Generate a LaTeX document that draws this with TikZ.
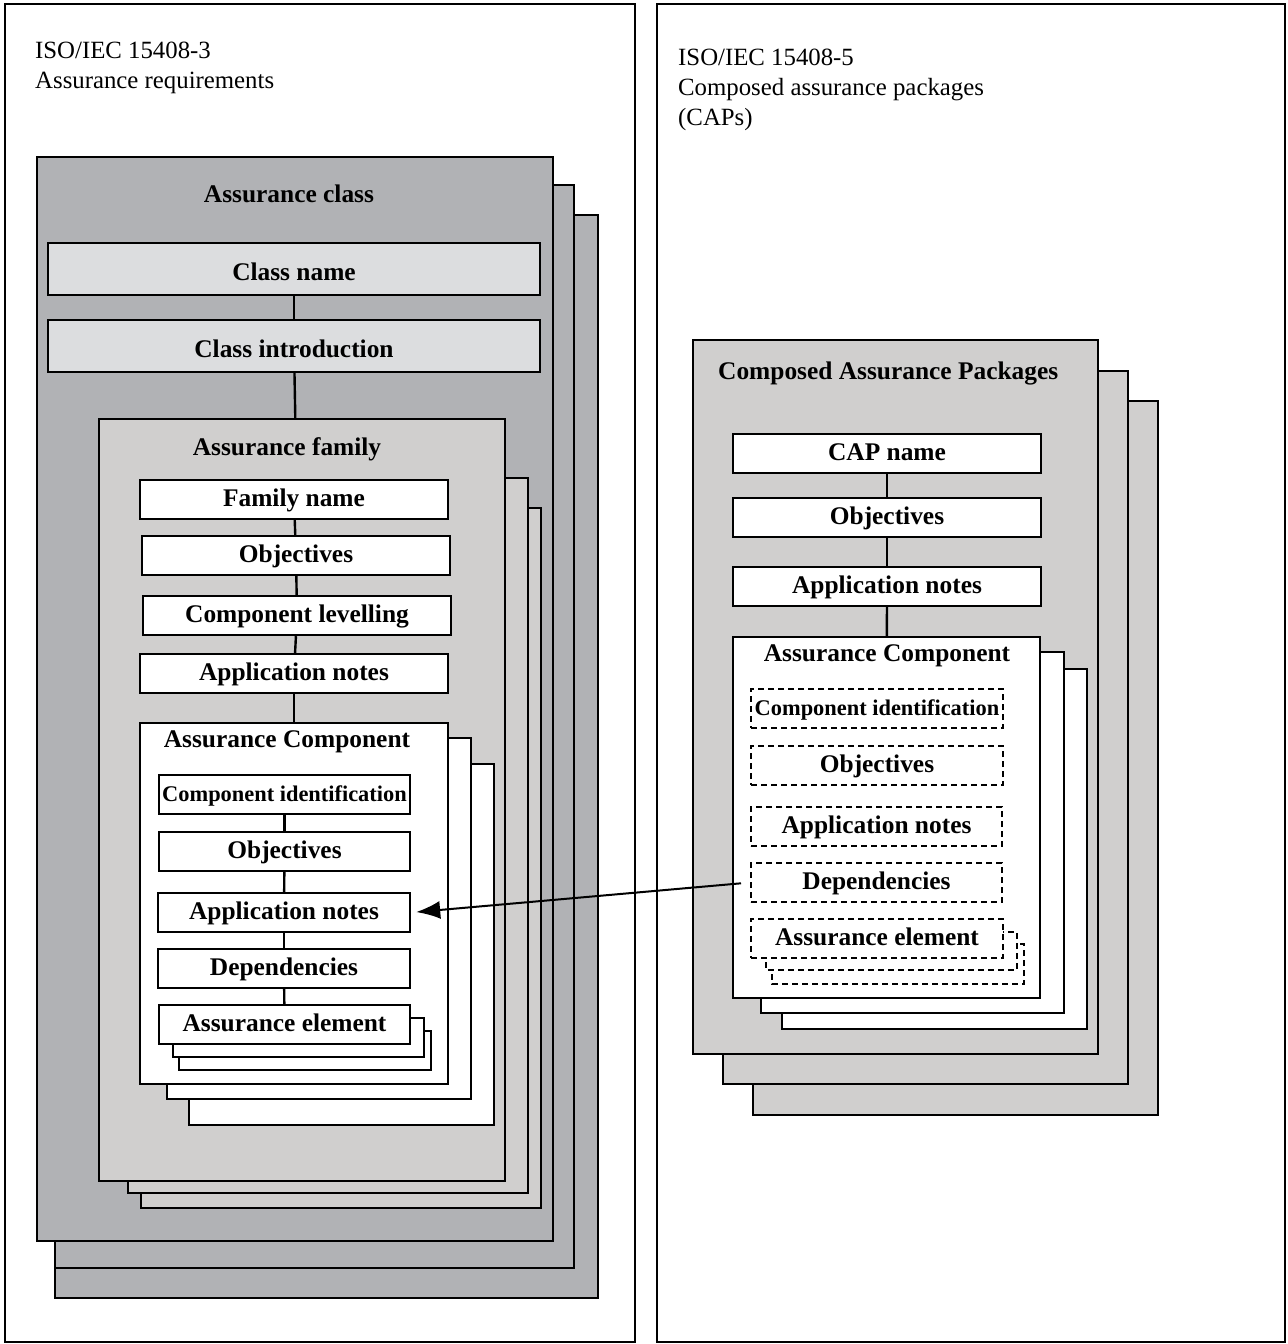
\documentclass[tikz,border=0pt]{standalone}
\usepackage{fontspec}
\setmainfont{Liberation Serif}
\usetikzlibrary{fit,arrows.meta}

\definecolor{classgray}{HTML}{B1B2B5}
\definecolor{famgray}{HTML}{D0CFCE}
\definecolor{namegray}{HTML}{DCDDDF}

\begin{document}
\begin{tikzpicture}[x=0.5pt,y=-0.5pt,>={Latex[length=12pt,width=9pt]},
                    line width=1.2pt,
  panel/.style={draw,line width=1pt,fill=white,inner sep=0pt},
  sheet/.style={draw,inner sep=0pt},
  row/.style={draw,fill=white,inner sep=0pt,minimum width=#1,minimum height=19.5pt,
              text height=1.5ex,text depth=0pt,
              font=\fontsize{12.7}{15}\selectfont\bfseries},
  drow/.style={row=#1,line width=1pt,dash pattern=on 3pt off 2pt},
  small/.style={font=\fontsize{11.2}{13}\selectfont\bfseries},
  title/.style={inner sep=0pt,font=\fontsize{12.7}{15}\selectfont\bfseries},
  head/.style={inner sep=0pt,anchor=north west,align=left,
               font=\fontsize{12.4}{15}\selectfont}]

  \useasboundingbox (0,0) rectangle (1288,1344);

  % the two parts
  \node[panel,fit={(5,4) (635,1342)}] (partA) {};
  \node[panel,fit={(657,4) (1285,1342)}] (partB) {};
  \node[head] (headA) at (34,41) {ISO/IEC 15408-3\\Assurance requirements};
  \node[head] (headB) at (677,48) {ISO/IEC 15408-5\\Composed assurance packages\\(CAPs)};

  % assurance class
  \draw[fill=classgray] (55,215) rectangle (598,1298);
  \draw[fill=classgray] (55,185) rectangle (574,1268);
  \node[sheet,fill=classgray,fit={(37,157) (553,1241)}] (cls) {};
  \node[title] (clstitle) at (289,194) {Assurance class};
  \node[row=246pt,fill=namegray,minimum height=26pt,text height=2.6ex] (clsname) at (294,269) {Class name};
  \node[row=246pt,fill=namegray,minimum height=26pt,text height=2.6ex] (clsintro) at (294,346) {Class introduction};

  % assurance family
  \draw[fill=famgray] (141,508) rectangle (541,1208);
  \draw[fill=famgray] (128,478) rectangle (528,1193);
  \node[sheet,fill=famgray,fit={(99,419) (505,1181)}] (fam) {};
  \node[title] (famtitle) at (287,449) {Assurance family};
  \node[row=154pt] (famname) at (294,499.5) {Family name};
  \node[row=154pt] (famobj) at (296,555.5) {Objectives};
  \node[row=154pt] (famlev) at (297,615.5) {Component levelling};
  \node[row=154pt] (famapp) at (294,673.5) {Application notes};

  % assurance component
  \draw[fill=white] (189,764) rectangle (494,1125);
  \draw[fill=white] (167,738) rectangle (471,1099);
  \node[sheet,fill=white,fit={(140,723) (448,1084)}] (cmp) {};
  \node[title] (cmptitle) at (287,742) {Assurance Component};
  \node[row=125.5pt,small] (cmpid) at (284.5,794.5) {Component identification};
  \node[row=125.5pt] (cmpobj) at (284.5,851.5) {Objectives};
  \node[row=126pt] (cmpapp) at (284,912.5) {Application notes};
  \node[row=126pt] (cmpdep) at (284,968.5) {Dependencies};
  \draw[fill=white] (179,1031) rectangle (431,1070);
  \draw[fill=white] (173,1018) rectangle (424,1057);
  \node[row=125.5pt] (cmpelem) at (284.5,1024.5) {Assurance element};

  % composed assurance packages
  \draw[fill=famgray] (753,401) rectangle (1158,1115);
  \draw[fill=famgray] (723,371) rectangle (1128,1084);
  \node[sheet,fill=famgray,fit={(693,340) (1098,1054)}] (cap) {};
  \node[title,anchor=west] (captitle) at (717,373) {Composed Assurance Packages};
  \node[row=154pt] (capname) at (887,453.5) {CAP name};
  \node[row=154pt] (capobj) at (887,517.5) {Objectives};
  \node[row=154pt] (capapp) at (887,586.5) {Application notes};

  \draw[fill=white] (782,669) rectangle (1087,1029);
  \draw[fill=white] (761,652) rectangle (1064,1013);
  \node[sheet,fill=white,fit={(733,637) (1040,998)}] (capcmp) {};
  \node[title] (capcmptitle) at (887,656) {Assurance Component};
  \node[drow=126pt,small] (capid) at (877,708.5) {Component identification};
  \node[drow=126pt] (capcobj) at (877,765.5) {Objectives};
  \node[drow=125.5pt] (capcapp) at (876.5,826.5) {Application notes};
  \node[drow=125.5pt] (capdep) at (876.5,882.5) {Dependencies};
  \draw[fill=white,line width=1pt,dash pattern=on 3pt off 2pt] (772,944) rectangle (1024,984);
  \draw[fill=white,line width=1pt,dash pattern=on 3pt off 2pt] (766,932) rectangle (1017,970);
  \node[drow=126pt] (capelem) at (877,938.5) {Assurance element};

  % connectors
  \path (clsname) edge (clsintro)
        (clsintro) edge (fam)
        (famname) edge (famobj)
        (famobj) edge (famlev)
        (famlev) edge (famapp)
        (famapp) edge (cmp)
        (cmpid) edge (cmpobj)
        (cmpobj) edge (cmpapp)
        (cmpapp) edge (cmpdep)
        (cmpdep) edge (cmpelem)
        (capname) edge (capobj)
        (capobj) edge (capapp)
        (capapp) edge (capcmp);

  \draw[->,line width=1pt,shorten <=4.5pt,shorten >=2.5pt] (capdep.west) -- (cmpapp.east);
\end{tikzpicture}
\end{document}
